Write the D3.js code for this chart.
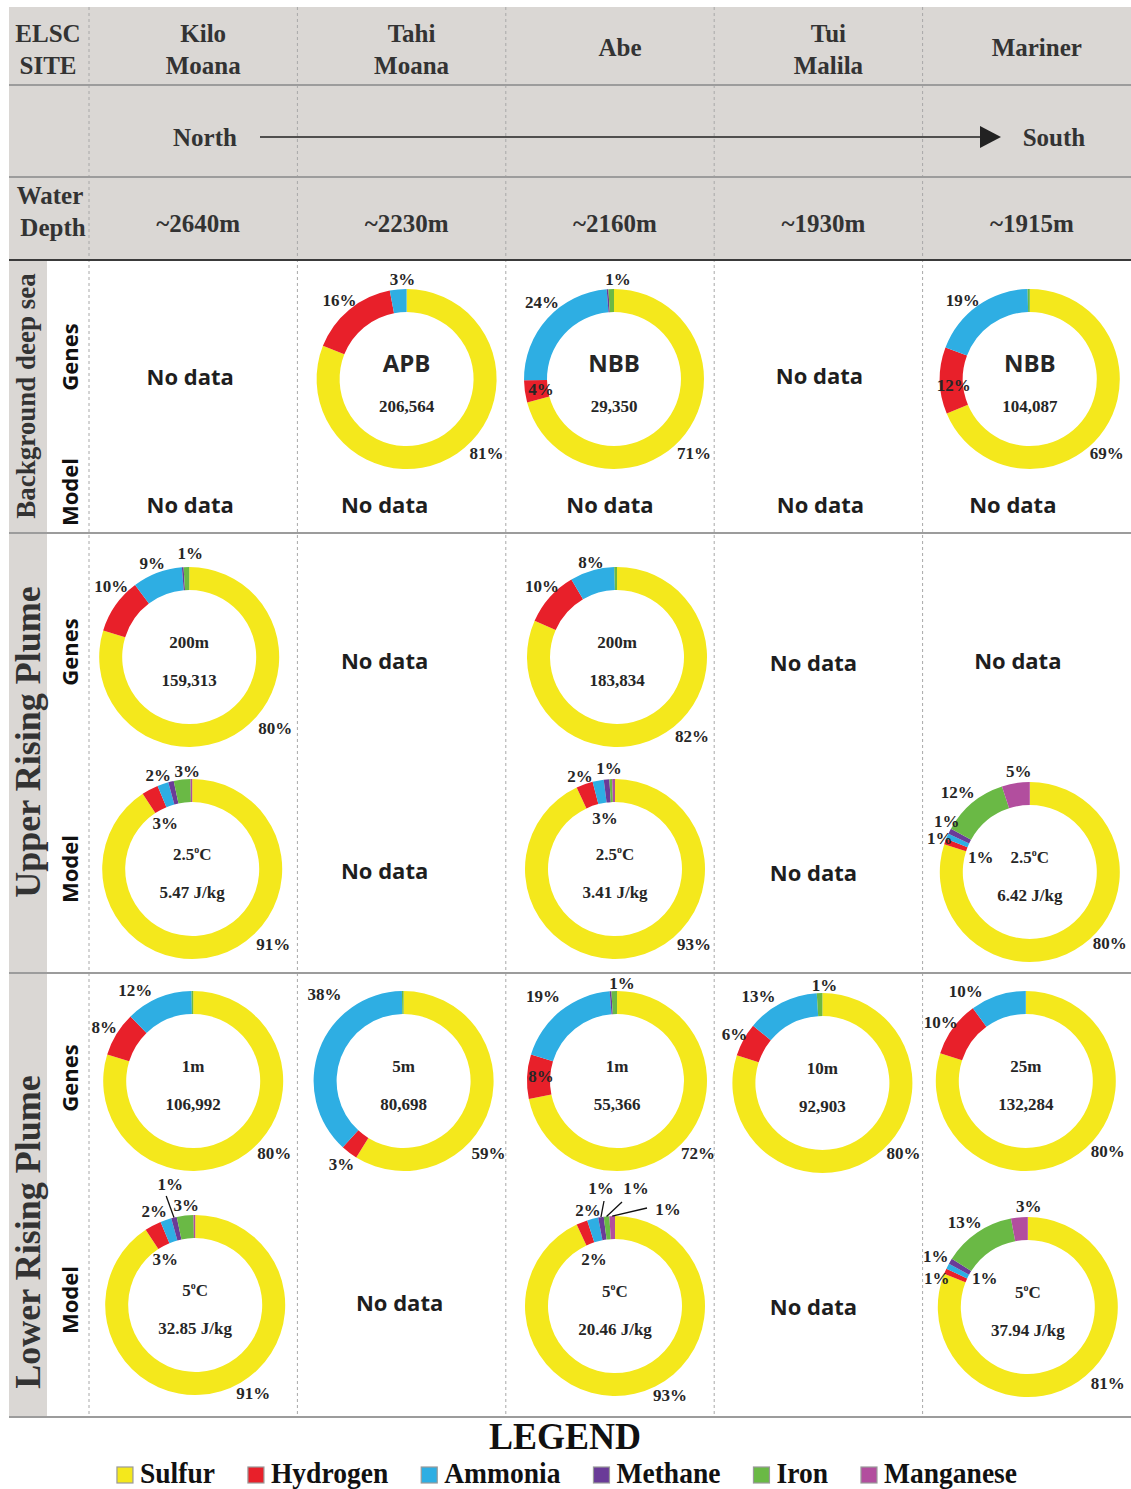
<!DOCTYPE html>
<html>
<head>
<meta charset="utf-8">
<script src="https://cdn.jsdelivr.net/npm/d3@7"></script>
<style>
  body { margin: 0; background: #fff; }
  svg { display: block; }
</style>
</head>
<body>
<div id="graf"></div>
<script>
// ---- data ----
const sites = ["Kilo Moana", "Tahi Moana", "Abe", "Tui Malila", "Mariner"]
const siteLines = [["Kilo", "Moana"], ["Tahi", "Moana"], ["Abe"], ["Tui", "Malila"], ["Mariner"]]
const depths = ["~2640m", "~2230m", "~2160m", "~1930m", "~1915m"]
const groups = ["Background deep sea", "Upper Rising Plume", "Lower Rising Plume"]
const kinds = ["Genes", "Model"]
const sources = ["Sulfur", "Hydrogen", "Ammonia", "Methane", "Iron", "Manganese"]

// energy share (%) in the order of `sources`
const bgGenesTahi = [81, 16, 3, 0, 0, 0]
const bgGenesAbe = [71, 4, 24, 0.3, 1, 0]
const bgGenesMariner = [69, 12, 19, 0, 0.4, 0]
const upGenesKilo = [80, 10, 9, 0.3, 1, 0]
const upGenesAbe = [82, 10, 8, 0, 0.5, 0]
const upModelKilo = [91, 3, 2, 1, 3, 0.3]
const upModelAbe = [93, 3, 2, 1, 0.5, 0.5]
const upModelMariner = [80, 1, 1, 1, 12, 5]
const lowGenesKilo = [80, 8, 12, 0, 0.3, 0]
const lowGenesTahi = [59, 3, 38, 0, 0.3, 0]
const lowGenesAbe = [72, 8, 19, 0.3, 1, 0]
const lowGenesTui = [80, 6, 13, 0, 1, 0]
const lowGenesMariner = [80, 10, 10, 0, 0, 0]
const lowModelKilo = [91, 3, 2, 1, 3, 0.3]
const lowModelAbe = [93, 2, 2, 1, 1, 1]
const lowModelMariner = [81, 1, 1, 1, 13, 3]

// panel table: row, site, values, centre texts
const panels = [
  { id: 1, row: "bgG", site: "Tahi Moana", values: bgGenesTahi, title: "APB", sub: "206,564" },
  { id: 2, row: "bgG", site: "Abe", values: bgGenesAbe, title: "NBB", sub: "29,350" },
  { id: 3, row: "bgG", site: "Mariner", values: bgGenesMariner, title: "NBB", sub: "104,087" },
  { id: 4, row: "upG", site: "Kilo Moana", values: upGenesKilo, title: "200m", sub: "159,313" },
  { id: 5, row: "upG", site: "Abe", values: upGenesAbe, title: "200m", sub: "183,834" },
  { id: 6, row: "upM", site: "Kilo Moana", values: upModelKilo, title: "2.5°C", sub: "5.47 J/kg" },
  { id: 7, row: "upM", site: "Abe", values: upModelAbe, title: "2.5°C", sub: "3.41 J/kg" },
  { id: 8, row: "upM", site: "Mariner", values: upModelMariner, title: "2.5°C", sub: "6.42 J/kg" },
  { id: 9, row: "lowG", site: "Kilo Moana", values: lowGenesKilo, title: "1m", sub: "106,992" },
  { id: 10, row: "lowG", site: "Tahi Moana", values: lowGenesTahi, title: "5m", sub: "80,698" },
  { id: 11, row: "lowG", site: "Abe", values: lowGenesAbe, title: "1m", sub: "55,366" },
  { id: 12, row: "lowG", site: "Tui Malila", values: lowGenesTui, title: "10m", sub: "92,903" },
  { id: 13, row: "lowG", site: "Mariner", values: lowGenesMariner, title: "25m", sub: "132,284" },
  { id: 14, row: "lowM", site: "Kilo Moana", values: lowModelKilo, title: "5°C", sub: "32.85 J/kg" },
  { id: 15, row: "lowM", site: "Abe", values: lowModelAbe, title: "5°C", sub: "20.46 J/kg" },
  { id: 16, row: "lowM", site: "Mariner", values: lowModelMariner, title: "5°C", sub: "37.94 J/kg" },
]

const noData = [
  ["bgG", "Kilo Moana", -3, -2], ["bgG", "Tui Malila", 1, -3],
  ["bgM", "Kilo Moana", -3, 0], ["bgM", "Tahi Moana", -17, 0], ["bgM", "Abe", 0, 0],
  ["bgM", "Tui Malila", 2, 0], ["bgM", "Mariner", -14, 0],
  ["upG", "Tahi Moana", -17, 4], ["upG", "Tui Malila", -5, 6], ["upG", "Mariner", -9, 4],
  ["upM", "Tahi Moana", -17, 1], ["upM", "Tui Malila", -5, 3],
  ["lowM", "Tahi Moana", -2, -3], ["lowM", "Tui Malila", -5, 1],
]

// ---- layout (label offsets from donut centre: [source, dx, dy, leaderX, leaderY]) ----
const layout = {
  1: { shift: [5, 0], labels: [[1, -67, -79], [2, -4, -100], [0, 80, 74]] },
  2: { shift: [4, 0], labels: [[4, 4, -100], [2, -72, -77], [1, -73, 10], [0, 80, 74]] },
  3: { shift: [3, 0], labels: [[2, -67, -79], [1, -76, 6], [0, 77, 74]] },
  4: { shift: [-4, 0], labels: [[4, 1, -104], [2, -37, -94], [1, -78, -71], [0, 86, 71]] },
  5: { shift: [7, 0], labels: [[2, -26, -95], [1, -75, -71], [0, 75, 79]] },
  6: { shift: [-1, -1], labels: [[2, -34, -94], [4, -5, -98], [1, -27, -46], [0, 81, 75]] },
  7: { shift: [5, -1], labels: [[2, -35, -93], [3, -6, -101], [1, -10, -51], [0, 79, 75]] },
  8: { shift: [3, 2], labels: [[5, -11, -101], [4, -72, -80], [3, -83, -51], [1, -90, -34], [2, -49, -15], [0, 80, 71]] },
  9: { shift: [0, 0], labels: [[2, -58, -91], [1, -89, -54], [0, 81, 72]] },
  10: { shift: [2, 0], labels: [[2, -79, -87], [1, -62, 83], [0, 85, 72]] },
  11: { shift: [7, 0], labels: [[2, -74, -85], [4, 5, -98], [1, -76, -5], [0, 81, 72]] },
  12: { shift: [4, 2], labels: [[2, -64, -87], [4, 2, -98], [1, -88, -49], [0, 81, 70]] },
  13: { shift: [-1, 0], labels: [[2, -60, -90], [1, -85, -59], [0, 82, 70]] },
  14: { shift: [2, -1], labels: [[3, -25, -121, -29, -109], [2, -41, -94], [4, -9, -100], [1, -30, -46], [0, 58, 88]] },
  15: { shift: [5, 0], labels: [[2, -27, -96], [3, -14, -118, -11, -105], [4, 21, -118, 7, -104], [5, 53, -97, 32, -98], [1, -21, -47], [0, 55, 89]] },
  16: { shift: [1, 1], labels: [[5, 1, -101], [4, -63, -85], [3, -92, -51], [1, -91, -29], [2, -43, -29], [0, 80, 76]] },
}

const rowY = { bgG: 379, bgM: 505, upG: 657, upM: 870, lowG: 1081, lowM: 1306 }
const kindY = [[357, 492], [652, 869], [1078, 1300]]
const groupY = [396, 742, 1232]
const groupSize = [27, 36, 36]

const serif = "'Liberation Serif','Times New Roman',serif"
const sans = "'Open Sans','Noto Sans',sans-serif"
const ink = "#262626"

const color = d3.scaleOrdinal()
  .domain(sources)
  .range(["#f4e81c", "#e8202a", "#2eaee3", "#6a3b98", "#6ab945", "#b24e9e"])

const svg = d3.select("#graf").append("svg").attr("width", 1131).attr("height", 1489)

const x = d3.scaleBand().domain(sites).range([89, 1131])
const cxOf = (s) => x(s) + x.bandwidth() / 2

// ---- table background ----
svg.append("rect").attr("x", 9).attr("y", 7).attr("width", 1122).attr("height", 253).attr("fill", "#dad7d4")
svg.append("rect").attr("x", 9).attr("y", 260).attr("width", 38).attr("height", 1157).attr("fill", "#dad7d4")

// dashed column lines
svg.selectAll(".vline").data(sites).join("line")
  .attr("x1", (d) => x(d)).attr("x2", (d) => x(d))
  .attr("y1", 7).attr("y2", 1417)
  .attr("stroke", "#a8a8a8").attr("stroke-dasharray", "3,3").attr("stroke-width", 1)

// horizontal rules
const rules = [[85, "#9c9c9c"], [177, "#9c9c9c"], [260, "#3a3a3a"], [533, "#9c9c9c"], [973, "#9c9c9c"], [1417, "#9c9c9c"]]
svg.selectAll(".hline").data(rules).join("line")
  .attr("x1", 9).attr("x2", 1131)
  .attr("y1", (d) => d[0]).attr("y2", (d) => d[0])
  .attr("stroke", (d) => d[1]).attr("stroke-width", 2)

// ---- header ----
const hdr = svg.append("g").attr("font-family", serif).attr("font-weight", "bold")
  .attr("font-size", 25).attr("fill", "#333").attr("text-anchor", "middle")

const twoLine = (lines, cx, yTop, yOne) => {
  const t = hdr.append("text").attr("x", cx)
  if (lines.length === 1) {
    t.attr("y", yOne).text(lines[0])
  } else {
    lines.forEach((l, i) => t.append("tspan").attr("x", cx).attr("y", yTop + i * 32).text(l))
  }
  return t
}
twoLine(["ELSC", "SITE"], 48, 42, 56)
siteLines.forEach((lines, i) => twoLine(lines, cxOf(sites[i]) + 10, 42, 56))

hdr.append("text").attr("x", 205).attr("y", 146).text("North")
hdr.append("text").attr("x", 1054).attr("y", 146).text("South")
svg.append("line").attr("x1", 260).attr("x2", 984).attr("y1", 137).attr("y2", 137)
  .attr("stroke", "#222").attr("stroke-width", 1.5)
svg.append("path").attr("d", "M980,126L1001,137L980,148Z").attr("fill", "#222")

const wd = twoLine(["Water", "Depth"], 50, 204, 0)
wd.selectAll("tspan").filter((d, i) => i === 1).attr("x", 53)
depths.forEach((d, i) => hdr.append("text").attr("x", cxOf(sites[i]) + 5).attr("y", 232).text(d))

// ---- row labels ----
groups.forEach((gname, gi) => {
  svg.append("text")
    .attr("transform", `translate(${gi === 0 ? 35 : 40},${groupY[gi]}) rotate(-90)`)
    .attr("text-anchor", "middle").attr("font-family", serif).attr("font-weight", "bold")
    .attr("font-size", groupSize[gi]).attr("fill", "#333").text(gname)
  kinds.forEach((k, ki) => {
    svg.append("text")
      .attr("transform", `translate(78,${kindY[gi][ki]}) rotate(-90)`)
      .attr("text-anchor", "middle").attr("font-family", sans).attr("font-weight", "bold")
      .attr("font-size", 22).attr("fill", "#111").text(k)
  })
})

// ---- no data cells ----
svg.selectAll(".nodata").data(noData).join("text")
  .attr("x", (d) => cxOf(d[1]) + d[2]).attr("y", (d) => rowY[d[0]] + d[3])
  .attr("dy", "0.35em").attr("text-anchor", "middle")
  .attr("font-family", sans).attr("font-weight", "bold").attr("font-size", 22)
  .attr("fill", "#1e1e1e").text("No data")

// ---- donuts ----
const rOuter = 90
const arc = d3.arc().innerRadius(67).outerRadius(rOuter)
const pie = d3.pie().sort(null).value((d) => d)

const writeTitle = (sel, t) => {
  if (t.includes("°")) {
    const [a, b] = t.split("°")
    sel.append("tspan").text(a)
    sel.append("tspan").attr("font-size", 10).attr("dy", -7).text("o")
    sel.append("tspan").attr("dy", 7).text(b)
  } else {
    sel.text(t)
  }
}

panels.forEach((p) => {
  const lay = layout[p.id]
  const cx = cxOf(p.site) + lay.shift[0]
  const cy = rowY[p.row] + lay.shift[1]
  const g = svg.append("g").attr("transform", `translate(${cx},${cy})`)
  const arcs = pie(p.values)

  g.selectAll("path").data(arcs).join("path")
    .attr("d", arc)
    .attr("fill", (d, i) => color(sources[i]))

  // leader lines
  lay.labels.filter((l) => l.length > 3).forEach((l) => {
    const a = arcs[l[0]]
    const m = (a.startAngle + a.endAngle) / 2
    g.append("line")
      .attr("x1", l[3]).attr("y1", l[4])
      .attr("x2", Math.sin(m) * rOuter).attr("y2", -Math.cos(m) * rOuter)
      .attr("stroke", "#111").attr("stroke-width", 1.3)
  })

  g.selectAll(".pct").data(lay.labels).join("text")
    .attr("x", (l) => l[1]).attr("y", (l) => l[2]).attr("dy", "0.35em")
    .attr("text-anchor", "middle").attr("font-family", serif).attr("font-weight", "bold")
    .attr("font-size", 17).attr("fill", ink)
    .text((l) => `${Math.round(p.values[l[0]])}%`)

  const isTag = p.row === "bgG"
  const title = g.append("text").attr("y", -15).attr("dy", "0.35em").attr("text-anchor", "middle")
    .attr("font-family", isTag ? sans : serif).attr("font-weight", "bold")
    .attr("font-size", isTag ? 24 : 17).attr("fill", ink)
  writeTitle(title, p.title)
  g.append("text").attr("y", isTag ? 27 : 23).attr("dy", "0.35em").attr("text-anchor", "middle")
    .attr("font-family", serif).attr("font-weight", "bold").attr("font-size", 17)
    .attr("fill", ink).text(p.sub)
})

// ---- legend ----
svg.append("text").attr("x", 565).attr("y", 1449).attr("text-anchor", "middle")
  .attr("font-family", serif).attr("font-weight", "bold").attr("font-size", 38)
  .attr("fill", "#111").attr("textLength", 152).attr("lengthAdjust", "spacingAndGlyphs")
  .text("LEGEND")

const legend = svg.append("g")
const squeeze = 0.95
const gap = 33
let lx = 0
sources.forEach((s) => {
  const gi = legend.append("g").attr("transform", `translate(${lx},0)`)
  gi.append("rect").attr("x", 0).attr("y", 1467).attr("width", 16).attr("height", 16)
    .attr("fill", color(s)).attr("stroke", "#999").attr("stroke-width", 1.2)
  const t = gi.append("text").attr("transform", `translate(23,1483) scale(${squeeze},1)`)
    .attr("font-family", serif).attr("font-weight", "bold").attr("font-size", 29)
    .attr("fill", "#111").text(s)
  const w = 23 + t.node().getComputedTextLength() * squeeze
  lx += w + gap
})
const totalW = lx - gap
legend.attr("transform", `translate(${567 - totalW / 2},0)`)
</script>
</body>
</html>
